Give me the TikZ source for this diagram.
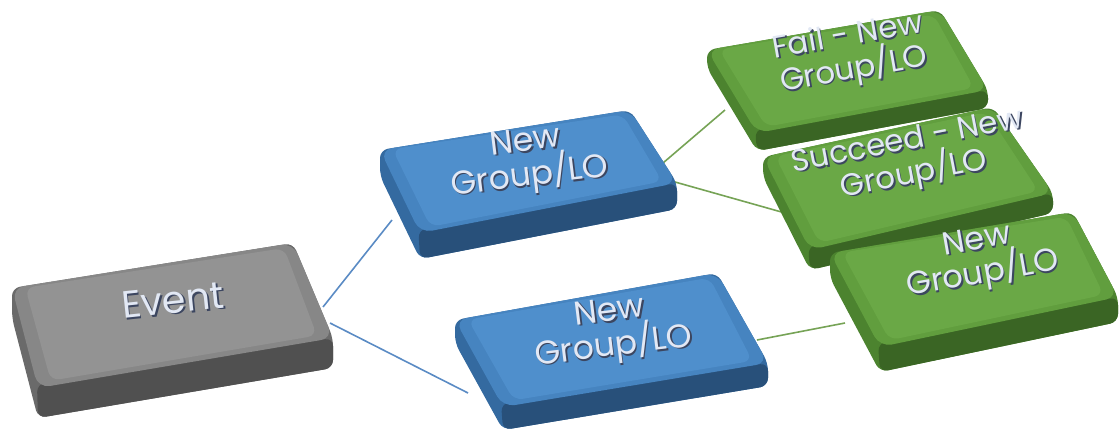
\documentclass[tikz,border=0pt]{standalone}
\usepackage{fontspec}
\setmainfont{Poppins}
\usetikzlibrary{calc}

% slab colours: top face, bevel band, left side, front side
\definecolor{topgry}{HTML}{939393}
\definecolor{bevgry}{HTML}{878787}
\definecolor{sidegry}{HTML}{6A6A6A}
\definecolor{frontgry}{HTML}{505050}
\definecolor{topblu}{HTML}{4F8FCC}
\definecolor{bevblu}{HTML}{4684C0}
\definecolor{sideblu}{HTML}{346AA0}
\definecolor{frontblu}{HTML}{28507A}
\definecolor{topgrn}{HTML}{6AA846}
\definecolor{bevgrn}{HTML}{619E3E}
\definecolor{sidegrn}{HTML}{4C832F}
\definecolor{frontgrn}{HTML}{3A6524}
\definecolor{capfg}{HTML}{E2E8F4}
\definecolor{capsh}{HTML}{3C4660}
\definecolor{linkblu}{HTML}{5A8BC4}
\definecolor{linkgrn}{HTML}{76A356}

% embossed caption: dark shadow node under a light one
\newcommand{\embtext}[5]{%
  \node[captext,text=capsh,rotate=#3,font=#5] (#1-sh) at ($(#2)+(1.6,1.8)$) {#4};
  \node[captext,rotate=#3,font=#5] (#1) at (#2) {#4};
}

\begin{document}
\begin{tikzpicture}[
  x=1pt,
  y=-1pt,
  captext/.style={align=center,text=capfg,inner sep=0pt},
  link/.style={line width=1.6pt},
  bluelink/.style={link,draw=linkblu},
  greenlink/.style={link,draw=linkgrn}
]
\useasboundingbox (0,0) rectangle (1120,444);

% =====================================================================
% connector end points
% =====================================================================
\coordinate (ev-a)   at (323,307);
\coordinate (ev-b)   at (330,323);
\coordinate (grpA-w) at (392,220);
\coordinate (grpB-w) at (468,393);
\coordinate (grpA-a) at (663,163);
\coordinate (grpA-b) at (675,182);
\coordinate (fail-w) at (725,110);
\coordinate (succ-w) at (785,213);
\coordinate (grpB-e) at (757,340);
\coordinate (newg-w) at (845,323);

% connectors sit behind the slabs
\draw[bluelink]  (ev-a) -- (grpA-w);
\draw[bluelink]  (ev-b) -- (grpB-w);
\draw[greenlink] (grpA-a) -- (fail-w);
\draw[greenlink] (grpA-b) -- (succ-w);
\draw[greenlink] (grpB-e) -- (newg-w);

% =====================================================================
% slabs: name / top-left / top-right / bottom-right / bottom-left / depth / colour
% =====================================================================
\foreach \nm/\tl/\tr/\br/\bl/\d/\col in {
    event/{12,288}/{293,243}/{333,338}/{38,388}/30/gry,
    grpA/{380,150}/{630,110}/{677,183}/{420,233}/26/blu,
    grpB/{455,320}/{717,273}/{768,363}/{503,407}/23/blu,
    fail/{707,50}/{940,10}/{988,90}/{757,133}/18/grn,
    succ/{763,157}/{993,107}/{1053,193}/{810,250}/20/grn,
    newg/{830,253}/{1073,212}/{1118,297}/{880,347}/25/grn}{
  \coordinate (\nm-tl) at (\tl);
  \coordinate (\nm-tr) at (\tr);
  \coordinate (\nm-br) at (\br);
  \coordinate (\nm-bl) at (\bl);
  % side walls
  \fill[side\col,rounded corners=8pt] (\nm-tl) -- ($(\nm-tl)+(0,\d)$) -- ($(\nm-bl)+(0,\d)$)
    -- ($(\nm-br)+(0,\d)$) -- (\nm-br) -- (\nm-tr) -- cycle;
  \fill[front\col,rounded corners=8pt] ($(\nm-bl)!0.04!(\nm-tl)$) -- ($(\nm-bl)+(0,\d)$)
    -- ($(\nm-br)+(0,\d)$) -- (\nm-br) -- cycle;
  % top face with bevel
  \fill[bev\col,rounded corners=12pt] (\nm-tl) -- (\nm-tr) -- (\nm-br) -- (\nm-bl) -- cycle;
  \fill[top\col,rounded corners=9pt] ($(\nm-tl)!0.035!(\nm-br)+(2,-2)$) -- ($(\nm-tr)!0.035!(\nm-bl)$)
    -- ($(\nm-br)!0.05!(\nm-tl)$) -- ($(\nm-bl)!0.05!(\nm-tr)$) -- cycle;
}

% =====================================================================
% captions
% =====================================================================
\embtext{eventtxt}{173,300}{6}{Event}{\fontsize{38}{38}\selectfont}
\embtext{grpAtxt}{528,161}{7}{New\\Group/LO}{\fontsize{33}{35}\selectfont}
\embtext{grpBtxt}{612,331}{7}{New\\Group/LO}{\fontsize{33}{35}\selectfont}
\embtext{failtxt}{851,54}{10}{Fail - New\\Group/LO}{\fontsize{31}{34}\selectfont}
\embtext{succtxt}{911,159}{11}{Succeed - New\\Group/LO}{\fontsize{31}{34}\selectfont}
\embtext{newgtxt}{980,259}{10}{New\\Group/LO}{\fontsize{32}{34}\selectfont}

\end{tikzpicture}
\end{document}
